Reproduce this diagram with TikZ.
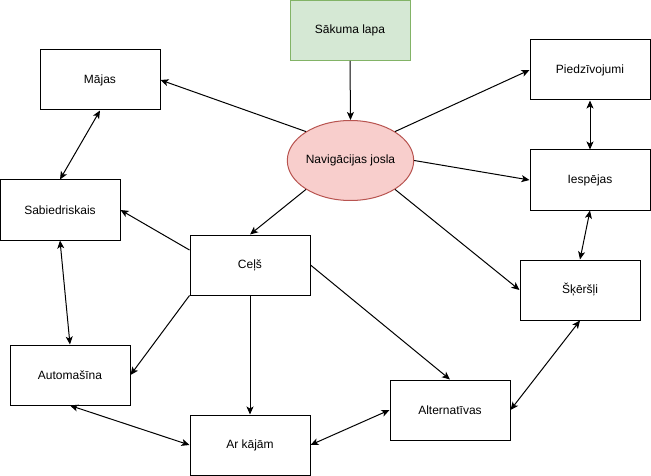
\documentclass[tikz,border=0pt]{standalone}
\usepackage{fontspec}
\setmainfont{Liberation Sans}
\usetikzlibrary{shapes.geometric,arrows.meta}

\begin{document}
\begin{tikzpicture}[x=1pt, y=-1pt, line width=1pt,
  font=\fontsize{12}{14}\selectfont,
  box/.style={draw, rectangle, minimum width=120pt, minimum height=60pt, inner sep=0pt},
  oneway/.style={-{Stealth[length=8pt,width=7pt,inset=2pt]}},
  twoway/.style={{Stealth[length=8pt,width=7pt,inset=2pt]}-{Stealth[length=8pt,width=7pt,inset=2pt]}}]
\useasboundingbox (0,0) rectangle (651,476);
% pixel grid: x to the right, y down
\node [box, draw={rgb,255:red,130;green,179;blue,102}, fill={rgb,255:red,213;green,232;blue,212}] (sakuma) at (350,30.5) {Sākuma lapa};
\node [draw={rgb,255:red,184;green,84;blue,80}, fill={rgb,255:red,248;green,206;blue,204}, ellipse, minimum width=120pt, minimum height=80pt, inner sep=0pt] (nav) at (350.5,160.5) {Navigācijas josla};

\node [box] (majas) at (100,80) {Mājas};
\node [box] (piedz) at (590,70) {Piedzīvojumi};
\node [box] (iesp) at (590,180) {Iespējas};
\node [box] (sabiedr) at (60,210) {Sabiedriskais};
\node [box] (cels) at (250,265) {Ceļš};
\node [box] (skers) at (580,290) {Šķēršļi};
\node [box] (auto) at (70,375) {Automašīna};
\node [box] (altern) at (450,410) {Alternatīvas};
\node [box] (arkajam) at (250,445) {Ar kājām};

\draw[oneway] (sakuma.south) -- (nav.north);
\draw[oneway] (nav.147) -- (majas.east);
\draw[oneway] (nav.33) -- (piedz.west);
\draw[oneway] (nav.east) -- (iesp.west);
\draw[oneway] (nav.213) -- (cels.north);
\draw[oneway] (nav.327) -- (skers.west);

\draw[twoway] (majas.south) -- (sabiedr.north);
\draw[twoway] (piedz.south) -- (iesp.north);
\draw[twoway] (iesp.south) -- (skers.north);

\draw[oneway] ([yshift=15pt]cels.west) -- (sabiedr.east);
\draw[oneway] (cels.south west) -- (auto.east);
\draw[oneway] (cels.south) -- (arkajam.north);
\draw[oneway] (cels.east) -- (altern.north);

\draw[twoway] (sabiedr.south) -- (auto.north);
\draw[twoway] (auto.south) -- (arkajam.west);
\draw[twoway] (arkajam.east) -- (altern.west);
\draw[twoway] (altern.east) -- (skers.south);
\end{tikzpicture}
\end{document}
